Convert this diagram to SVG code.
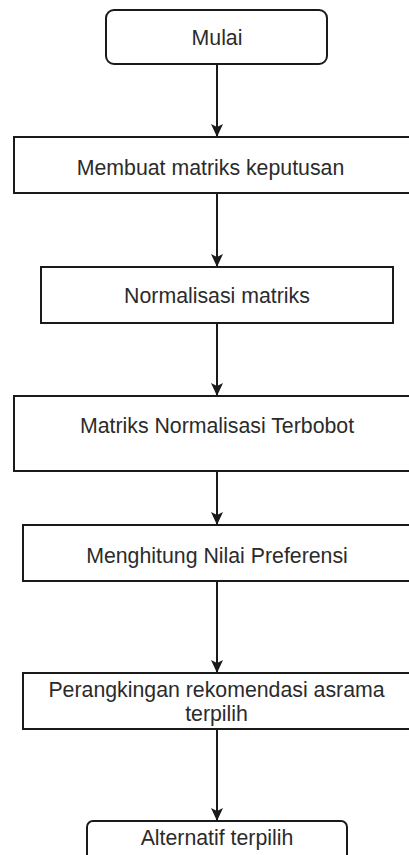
<svg xmlns="http://www.w3.org/2000/svg" width="409" height="855" viewBox="0 0 409 855">
  <style>
    .box { fill: #ffffff; stroke: #1a1a1a; stroke-width: 2; }
    .lbl { font-family: "Liberation Sans", Arial, Helvetica, sans-serif; font-size: 21.3px; fill: #2b2b2b; text-anchor: middle; }
    .edge { stroke: #1a1a1a; stroke-width: 2; fill: none; marker-end: url(#arr); }
  </style>
  <defs>
    <marker id="arr" markerUnits="userSpaceOnUse" markerWidth="13" markerHeight="12" viewBox="-13 -6 13 12" refX="0" refY="0" orient="auto">
      <path d="M0,0 L-13,-6 L-10,0 L-13,6 Z" fill="#1a1a1a"/>
    </marker>
  </defs>
  <rect width="409" height="855" fill="#ffffff"/>

  <g id="connectors">
    <line class="edge" x1="217" y1="64" x2="217" y2="137"/>
    <line class="edge" x1="217" y1="193" x2="217" y2="267"/>
    <line class="edge" x1="217" y1="323" x2="217" y2="396"/>
    <line class="edge" x1="217" y1="471" x2="217" y2="525"/>
    <line class="edge" x1="217" y1="581" x2="217" y2="673"/>
    <line class="edge" x1="217" y1="729" x2="217" y2="821"/>
  </g>

  <g id="mulai">
    <rect class="box" x="106" y="10" width="221" height="54" rx="8" ry="8"/>
    <text class="lbl" x="217" y="45">Mulai</text>
  </g>
  <g id="membuat-matriks">
    <rect class="box" x="14" y="137" width="410" height="56"/>
    <text class="lbl" x="210.5" y="175">Membuat matriks keputusan</text>
  </g>
  <g id="normalisasi">
    <rect class="box" x="41" y="267" width="352" height="56"/>
    <text class="lbl" x="217" y="303">Normalisasi matriks</text>
  </g>
  <g id="terbobot">
    <rect class="box" x="14" y="396" width="410" height="75"/>
    <text class="lbl" x="217" y="433">Matriks Normalisasi Terbobot</text>
  </g>
  <g id="preferensi">
    <rect class="box" x="23" y="525" width="400" height="56"/>
    <text class="lbl" x="217" y="563">Menghitung Nilai Preferensi</text>
  </g>
  <g id="perangkingan">
    <rect class="box" x="23" y="673" width="400" height="56"/>
    <text class="lbl" x="216.5" y="697">Perangkingan rekomendasi asrama</text>
    <text class="lbl" x="216.5" y="721">terpilih</text>
  </g>
  <g id="alternatif">
    <rect class="box" x="87" y="821" width="260" height="50" rx="6" ry="6"/>
    <text class="lbl" x="217" y="845">Alternatif terpilih</text>
  </g>
</svg>
